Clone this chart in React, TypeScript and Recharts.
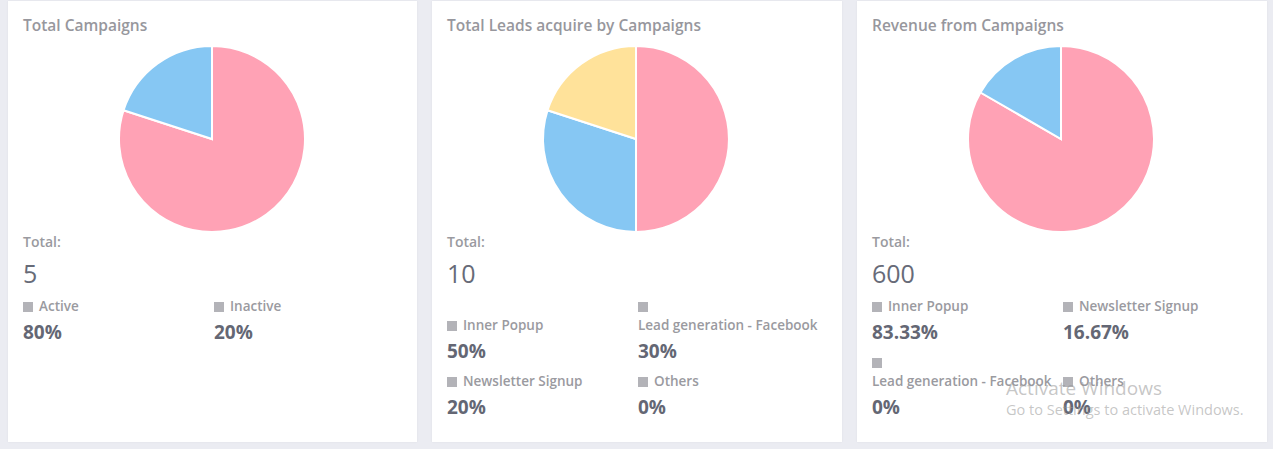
import React from 'react';
import { PieChart, Pie, Cell } from 'recharts';

const campaignLabels = ['Active', 'Inactive'];
const campaignValues = [4, 1];
const leadLabels = ['Inner Popup', 'Lead generation - Facebook', 'Newsletter Signup', 'Others'];
const leadValues = [5, 3, 2, 0];
const revenueLabels = ['Inner Popup', 'Newsletter Signup', 'Lead generation - Facebook', 'Others'];
const revenueValues = [500, 100, 0, 0];

const sliceColors = ['#ffa2b5', '#86c7f3', '#ffe29a', '#c9cbcf'];

const FONT = '"Open Sans", sans-serif';

function pct(v: number, total: number) {
    const p = (v / total) * 100;
    return `${parseFloat(p.toFixed(2))}%`;
}

function LegendCell({ label, value }: { label: string; value: string }) {
    return (
        <div style={{ width: 180, marginRight: 11 }}>
            <div style={{ display: 'flex', flexWrap: 'wrap', alignItems: 'center' }}>
                <span style={{ display: 'inline-flex', alignItems: 'center', height: 19 }}>
                    <span style={{ width: 10, height: 10, background: '#b3b3b8', marginRight: 6 }} />
                </span>
                <span style={{ whiteSpace: 'nowrap', lineHeight: '19px', fontSize: 13.5, fontWeight: 600, color: '#9a9aa0' }}>
                    {label}
                </span>
            </div>
            <div style={{ marginTop: 5, lineHeight: '22px', fontSize: 19, fontWeight: 700, color: '#646774' }}>{value}</div>
        </div>
    );
}

function Card({ left, width, title, labels, values }: { left: number; width: number; title: string; labels: string[]; values: number[] }) {
    const total = values.reduce((a, b) => a + b, 0);
    const data = labels.map((name, i) => ({ name, value: values[i] }));
    const rows: number[][] = [];
    for (let i = 0; i < labels.length; i += 2) rows.push(labels.slice(i, i + 2).map((_, j) => i + j));

    return (
        <div style={{ position: 'absolute', left, top: 1, width, height: 441, background: '#fff', boxShadow: '0 0 2px rgba(0,0,0,0.06)' }}>
            <div style={{ position: 'absolute', left: 15, top: 14, lineHeight: '20px', fontSize: 15.5, fontWeight: 600, color: '#97979d' }}>{title}</div>
            <div style={{ position: 'absolute', left: 0, top: 38 }}>
                <PieChart width={width} height={200} margin={{ top: 0, right: 0, bottom: 0, left: 0 }}>
                    <Pie
                        data={data}
                        dataKey="value"
                        cx={204}
                        cy={100}
                        outerRadius={93}
                        startAngle={90}
                        endAngle={-270}
                        stroke="#fff"
                        strokeWidth={2}
                        isAnimationActive={false}
                    >
                        {data.map((d, i) => (
                            <Cell key={d.name} fill={sliceColors[i]} />
                        ))}
                    </Pie>
                </PieChart>
            </div>
            <div style={{ position: 'absolute', left: 15, top: 231, width: width - 15 }}>
                <div style={{ lineHeight: '20px', fontSize: 14, fontWeight: 600, color: '#9a9aa0' }}>Total:</div>
                <div style={{ marginTop: 6, lineHeight: '30px', fontSize: 25, fontWeight: 500, color: '#676b78' }}>{total}</div>
                <div style={{ marginTop: 9 }}>
                    {rows.map((r, ri) => (
                        <div key={ri} style={{ display: 'flex', alignItems: 'flex-end', marginBottom: 10 }}>
                            {r.map((i) => (
                                <LegendCell key={i} label={labels[i]} value={pct(values[i], total)} />
                            ))}
                        </div>
                    ))}
                </div>
            </div>
        </div>
    );
}

export default function App() {
    return (
        <div style={{ position: 'absolute', left: 0, top: 0, width: 1273, height: 449, background: '#ebecf2', fontFamily: FONT, overflow: 'hidden' }}>
            <Card left={8} width={409} title="Total Campaigns" labels={campaignLabels} values={campaignValues} />
            <Card left={432} width={410} title="Total Leads acquire by Campaigns" labels={leadLabels} values={leadValues} />
            <Card left={857} width={410} title="Revenue from Campaigns" labels={revenueLabels} values={revenueValues} />
            <div style={{ position: 'absolute', left: 1006, top: 377, fontSize: 19, lineHeight: '22px', color: 'rgba(150,150,150,0.55)' }}>Activate Windows</div>
            <div style={{ position: 'absolute', left: 1006, top: 401, fontSize: 14.5, lineHeight: '18px', color: 'rgba(150,150,150,0.55)' }}>Go to Settings to activate Windows.</div>
        </div>
    );
}
